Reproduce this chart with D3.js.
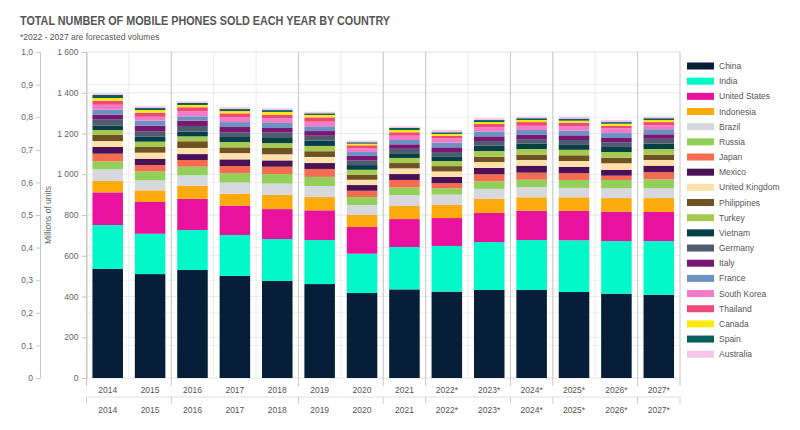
<!DOCTYPE html>
<html>
<head>
<meta charset="utf-8">
<script src="https://cdn.jsdelivr.net/npm/d3@7"></script>
<style>
  body { margin: 0; background: #fff; }
  svg text { font-family: "Liberation Sans", Arial, Helvetica, sans-serif; }
</style>
</head>
<body>
<div class="stackChart"></div>
<script>
var years = ["2014","2015","2016","2017","2018","2019","2020","2021","2022*","2023*","2024*","2025*","2026*","2027*"];

var countries = ["China","India","United States","Indonesia","Brazil","Russia","Japan","Mexico","United Kingdom",
  "Philippines","Turkey","Vietnam","Germany","Italy","France","South Korea","Thailand","Canada","Spain","Australia"];

var colors = ["#061e38","#03f8c9","#e8129f","#ffaa0d","#d6d8dd","#92d05b","#f76c50","#4a1157","#fde0aa",
  "#6e5223","#a8c951","#053f47","#4f5b6e","#7a1573","#6b93bf","#f47bc9","#ee4a78","#fde90c","#08605c","#f6c6e6"];

// millions of units per year
var china       = [535,510,530,501,476,461,417,435,424,432,432,422,414,409];
var india       = [216,198,196,201,206,216,193,208,224,235,245,254,258,263];
var usa         = [160,156,153,144,147,146,131,137,137,143,144,144,144,143];
var indonesia   = [56,57,65,59,69,65,59,64,64,69,66,67,67,68];
var brazil      = [57,49,51,55,56,54,49,53,51,49,50,46,48,48];
var russia      = [39,44,42,45,47,45,39,39,31,37,36,39,41,44];
var japan       = [38,31,33,35,36,39,31,36,25,35,35,33,21,35];
var mexico      = [33,31,29,33,31,29,28,29,31,31,34,31,29,32];
var uk          = [29,30,30,31,30,30,26,28,27,29,28,29,32,28];
var philippines = [30,28,33,28,31,28,25,26,26,26,26,28,27,26];
var turkey      = [24,26,24,26,24,26,24,25,25,28,28,27,28,28];
var vietnam     = [21,24,23,25,25,26,23,23,23,26,26,24,25,26];
var germany     = [32,27,28,23,28,24,23,22,21,23,22,24,23,24];
var italy       = [22,27,26,26,21,23,22,22,23,23,22,23,21,22];
var france      = [25,25,21,24,25,23,19,21,23,23,23,23,24,25];
var southKorea  = [24,19,25,23,23,23,18,21,21,21,21,23,23,19];
var thailand    = [20,20,20,20,17,21,15,17,13,17,18,16,13,16];
var canada      = [13,13,11,11,14,12,8,11,9,9,10,10,10,10];
var spain       = [15,10,10,10,9,8,7,10,8,10,9,10,8,9];
var australia   = [8,9,8,9,9,8,8,8,11,9,8,10,10,8];

var seriesValues = [china,india,usa,indonesia,brazil,russia,japan,mexico,uk,philippines,
  turkey,vietnam,germany,italy,france,southKorea,thailand,canada,spain,australia];

var rightTicks = [0,200,400,600,800,1000,1200,1400,1600];
var leftTicks = [0,0.1,0.2,0.3,0.4,0.5,0.6,0.7,0.8,0.9,1.0];
// band boundaries that get a darker grid line / lower tick
var groupBreaks = [0,2,5,7,8,10,11,13,14];

var width = 800, height = 430,
    plot = { left: 86.5, right: 680, top: 52, bottom: 378 };

var locale = d3.formatLocale({ decimal: ",", thousands: " ", grouping: [3], currency: ["", ""] });
var fmtLeft = locale.format(".1f");

var svg = d3.select(".stackChart").append("svg")
    .attr("width", width)
    .attr("height", height);

var x = d3.scaleBand().domain(years)
    .range([plot.left, plot.right])
    .paddingInner(0.28).paddingOuter(0.14);
var y = d3.scaleLinear().domain([0, 1600]).range([plot.bottom, plot.top]);
var yLeft = d3.scaleLinear().domain([0, 1]).range([plot.bottom, plot.top]);

// title
svg.append("text")
  .text("TOTAL NUMBER OF MOBILE PHONES SOLD EACH YEAR BY COUNTRY")
  .attr("x", 20).attr("y", 25)
  .attr("textLength", 370).attr("lengthAdjust", "spacingAndGlyphs")
  .style("font-size", "12.6px").style("font-weight", "bold").style("fill", "#555");

svg.append("text")
  .text("*2022 - 2027 are forecasted volumes")
  .attr("x", 20).attr("y", 40)
  .style("font-size", "8.5px").style("fill", "#555");

// horizontal grid
var grid = svg.append("g").attr("class", "grid");
grid.selectAll(".hr").data(rightTicks).enter().append("line")
  .attr("x1", plot.left).attr("x2", plot.right)
  .attr("y1", function(d) { return y(d); }).attr("y2", function(d) { return y(d); })
  .style("stroke", "#e4e4e4").style("stroke-width", 0.8);
grid.selectAll(".hl").data(leftTicks).enter().append("line")
  .attr("x1", plot.left).attr("x2", plot.right)
  .attr("y1", function(d) { return yLeft(d); }).attr("y2", function(d) { return yLeft(d); })
  .style("stroke", "#ececec").style("stroke-width", 0.8);

// vertical grid at every band boundary
var step = x.step();
grid.selectAll(".vb").data(d3.range(1, years.length)).enter().append("line")
  .attr("x1", function(k) { return plot.left + k * step; })
  .attr("x2", function(k) { return plot.left + k * step; })
  .attr("y1", plot.top).attr("y2", plot.bottom)
  .style("stroke", "#e6e6e6").style("stroke-width", 0.8);
grid.selectAll(".vg").data(groupBreaks).enter().append("line")
  .attr("x1", function(k) { return plot.left + k * step; })
  .attr("x2", function(k) { return plot.left + k * step; })
  .attr("y1", plot.top).attr("y2", plot.bottom + 8)
  .style("stroke", "#c4c4c4").style("stroke-width", 0.9);

// stacked bars
var table = years.map(function(yr, i) {
  var row = { year: yr };
  countries.forEach(function(c, j) { row[c] = seriesValues[j][i]; });
  return row;
});
var stacked = d3.stack().keys(countries)(table);

var layer = svg.selectAll(".layer")
  .data(stacked)
  .enter().append("g")
    .attr("class", "layer")
    .style("fill", function(d, i) { return colors[i]; });

layer.selectAll("rect")
  .data(function(d) { return d; })
  .enter().append("rect")
    .attr("x", function(d) { return x(d.data.year); })
    .attr("width", x.bandwidth())
    .attr("y", function(d) { return y(d[1]); })
    .attr("height", function(d) { return y(d[0]) - y(d[1]); });

// left (unused 0..1) axis
var leftAxis = svg.append("g")
  .attr("transform", "translate(40,0)")
  .call(d3.axisLeft(yLeft).tickValues(leftTicks).tickSize(4).tickPadding(3)
    .tickFormat(function(d) { return d === 0 ? "0" : fmtLeft(d); }));

// right value axis
var valueAxis = svg.append("g")
  .attr("transform", "translate(" + plot.left + ",0)")
  .call(d3.axisLeft(y).tickValues(rightTicks).tickSize(5).tickPadding(3).tickFormat(locale.format(",d")));

[leftAxis, valueAxis].forEach(function(a) {
  a.select(".domain").style("stroke", "#c8c8c8");
  a.selectAll(".tick line").style("stroke", "#c8c8c8");
  a.selectAll(".tick text").style("fill", "#666").style("font-size", "8.5px")
    .style("font-family", "'Liberation Sans', Arial, sans-serif");
});

svg.append("text")
  .text("Millions of units")
  .attr("transform", "translate(51,215) rotate(-90)")
  .style("text-anchor", "middle")
  .style("font-size", "8.5px").style("fill", "#666");

// plot right border
svg.append("line")
  .attr("x1", plot.right).attr("x2", plot.right)
  .attr("y1", plot.top).attr("y2", 372)
  .style("stroke", "#e0e0e0");

// bottom category labels, two rows
var xLabels = svg.append("g").attr("class", "xlabels");
xLabels.selectAll(".r1").data(years).enter().append("text")
  .text(function(d) { return d; })
  .attr("x", function(d) { return x(d) + x.bandwidth() / 2; })
  .attr("y", 393)
  .style("text-anchor", "middle").style("font-size", "8.5px").style("fill", "#555");

xLabels.append("line")
  .attr("x1", plot.left).attr("x2", plot.right)
  .attr("y1", 397).attr("y2", 397)
  .style("stroke", "#e0e0e0");
xLabels.selectAll(".tk").data(groupBreaks).enter().append("line")
  .attr("x1", function(k) { return plot.left + k * step; })
  .attr("x2", function(k) { return plot.left + k * step; })
  .attr("y1", 397).attr("y2", 404)
  .style("stroke", "#cfcfcf");

xLabels.selectAll(".r2").data(years).enter().append("text")
  .text(function(d) { return d; })
  .attr("x", function(d) { return x(d) + x.bandwidth() / 2; })
  .attr("y", 413)
  .style("text-anchor", "middle").style("font-size", "8.5px").style("fill", "#555");

// legend
var legendElementSize = 15.17;
var legend = svg.selectAll(".legend")
  .data(countries)
  .enter().append("g")
    .attr("class", "legend")
    .attr("transform", function(d, i) { return "translate(687," + (66 + i * legendElementSize) + ")"; });

legend.append("rect")
  .attr("x", 0).attr("y", -3.5)
  .attr("width", 27).attr("height", 7)
  .style("fill", function(d, i) { return colors[i]; });

legend.append("text")
  .text(function(d) { return d; })
  .attr("x", 32).attr("y", 3)
  .style("font-size", "8.5px").style("fill", "#555");
</script>
</body>
</html>
